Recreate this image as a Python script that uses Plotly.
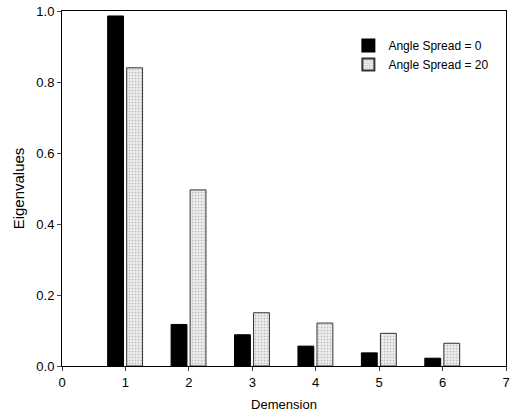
import plotly.graph_objects as go

dimensions = [1, 2, 3, 4, 5, 6]
spread0 = [0.986, 0.117, 0.088, 0.056, 0.037, 0.022]
spread20 = [0.840, 0.496, 0.150, 0.121, 0.092, 0.064]
series_names = ["Angle Spread = 0", "Angle Spread = 20"]
yticks = [0.0, 0.2, 0.4, 0.6, 0.8, 1.0]
xticks = [0, 1, 2, 3, 4, 5, 6, 7]

fig = go.Figure()
fig.add_trace(go.Bar(
    x=dimensions, y=spread0, name=series_names[0],
    width=0.25, offset=-0.28,
    marker=dict(color="black", line=dict(color="black", width=1)),
))
fig.add_trace(go.Bar(
    x=dimensions, y=spread20, name=series_names[1],
    width=0.25, offset=0.02,
    marker=dict(color="#e4e4e4", line=dict(color="#333333", width=1),
                pattern=dict(shape=".", size=3, solidity=0.25, fgcolor="#888888", bgcolor="#ececec")),
))

font = dict(family="Liberation Sans, Arial, sans-serif", size=13, color="black")
fig.update_layout(
    width=512, height=416,
    margin=dict(l=62, r=6, t=11, b=50),
    paper_bgcolor="white", plot_bgcolor="white",
    font=font,
    barmode="overlay",
    showlegend=True,
    legend=dict(x=0.645, y=0.944, xanchor="left", yanchor="top",
                bgcolor="rgba(0,0,0,0)", font=dict(size=12), tracegroupgap=0,
                itemsizing="constant"),
    xaxis=dict(range=[0, 7], tickvals=xticks, ticks="outside", ticklen=4,
               showgrid=False, zeroline=False, showline=True, linecolor="black",
               linewidth=1, mirror=True, automargin=False, ticklabeloverflow="allow",
               title=dict(text="Demension", font=dict(size=13), standoff=11)),
    yaxis=dict(range=[0, 1.0], tickvals=yticks, tickformat=".1f", ticks="outside",
               ticklen=4, showgrid=False, zeroline=False, showline=True,
               linecolor="black", linewidth=1, mirror=True, automargin=False,
               ticklabeloverflow="allow",
               title=dict(text="Eigenvalues", font=dict(size=15), standoff=8)),
)
fig.write_html("out.html", config={"displayModeBar": False},
               post_script="document.body.style.margin='0';document.body.style.overflow='hidden';")
